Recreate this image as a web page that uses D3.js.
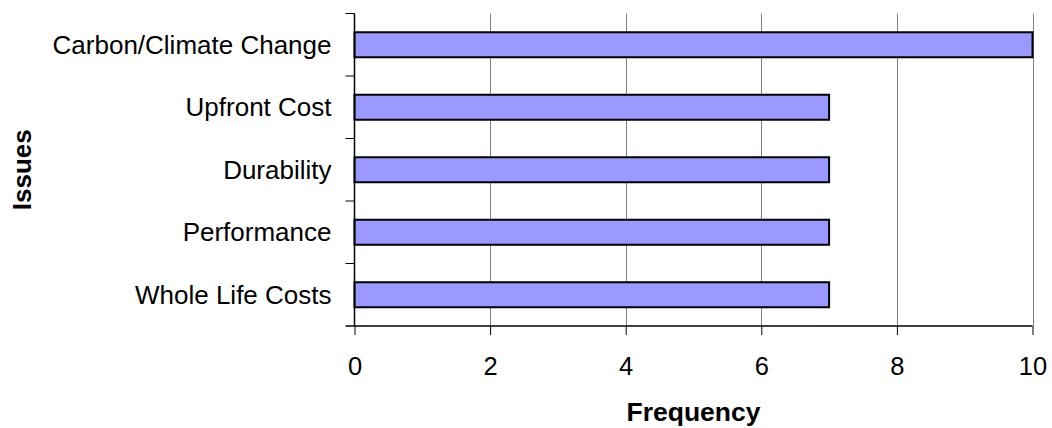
<!DOCTYPE html>
<html>
<head>
<meta charset="utf-8">
<script src="https://cdn.jsdelivr.net/npm/d3@7"></script>
<style>
  html, body { margin: 0; padding: 0; background: #fff; }
  svg { display: block; font-family: "Liberation Sans", Arial, sans-serif; }
</style>
</head>
<body>
<svg id="chart" width="1052" height="428"></svg>
<script>
// Issue categories, top to bottom, and how often each was raised
const issues = ["Carbon/Climate Change", "Upfront Cost", "Durability", "Performance", "Whole Life Costs"];
const frequency = [10, 7, 7, 7, 7];
const freqTicks = [0, 2, 4, 6, 8, 10];

const svg = d3.select("#chart");
const plot = { left: 354.5, right: 1032.5, top: 13.5, bottom: 326 };

const x = d3.scaleLinear().domain([0, 10]).range([plot.left, plot.right]);
const y = d3.scaleBand().domain(issues).range([plot.top, plot.bottom]).paddingInner(0.6).paddingOuter(0.3);
const band = d3.scaleBand().domain(issues).range([plot.top, plot.bottom]);

// vertical gridlines
svg.append("g")
  .selectAll("line")
  .data(freqTicks.filter(d => d > 0))
  .join("line")
  .attr("x1", d => Math.round(x(d)) + 0.5)
  .attr("x2", d => Math.round(x(d)) + 0.5)
  .attr("y1", plot.top)
  .attr("y2", plot.bottom)
  .attr("stroke", "#808080")
  .attr("stroke-width", 1);

// bars
svg.append("g")
  .selectAll("rect")
  .data(issues.map((name, i) => ({ name, value: frequency[i] })))
  .join("rect")
  .attr("x", x(0))
  .attr("y", d => y(d.name))
  .attr("width", d => x(d.value) - x(0))
  .attr("height", y.bandwidth())
  .attr("fill", "#9999FF")
  .attr("stroke", "#000")
  .attr("stroke-width", 2);

// x axis
const xAxis = svg.append("g")
  .attr("transform", `translate(0,${plot.bottom})`)
  .call(d3.axisBottom(x).tickValues(freqTicks).tickSize(9).tickPadding(22).tickSizeOuter(0));
xAxis.select(".domain").attr("stroke", "#000").attr("stroke-width", 1.5)
  .attr("d", `M${plot.left - 9},0H${plot.right}`);
xAxis.selectAll(".tick line").attr("stroke", "#000").attr("stroke-width", 1);
xAxis.selectAll(".tick text")
  .attr("font-size", 25.5)
  .attr("font-family", "'Liberation Sans', Arial, sans-serif")
  .attr("fill", "#000");

// y axis: ticks sit on category boundaries
const yAxisG = svg.append("g").attr("transform", `translate(${plot.left},0)`);
yAxisG.append("line")
  .attr("x1", 0).attr("x2", 0)
  .attr("y1", plot.top).attr("y2", plot.bottom)
  .attr("stroke", "#000").attr("stroke-width", 1.5);
yAxisG.selectAll("line.tick")
  .data(issues)
  .join("line")
  .attr("class", "tick")
  .attr("x1", -9).attr("x2", 0)
  .attr("y1", d => band(d))
  .attr("y2", d => band(d))
  .attr("stroke", "#000").attr("stroke-width", 1);
yAxisG.selectAll("text")
  .data(issues)
  .join("text")
  .attr("x", -23)
  .attr("y", d => band(d) + band.bandwidth() / 2)
  .attr("dy", "0.35em")
  .attr("text-anchor", "end")
  .attr("font-size", 26)
  .attr("fill", "#000")
  .text(d => d);

// axis titles
svg.append("text")
  .attr("x", (plot.left + plot.right) / 2)
  .attr("y", 421)
  .attr("text-anchor", "middle")
  .attr("font-size", 26.5)
  .attr("font-weight", "bold")
  .text("Frequency");

svg.append("text")
  .attr("transform", `translate(31,${(plot.top + plot.bottom) / 2}) rotate(-90)`)
  .attr("text-anchor", "middle")
  .attr("font-size", 26)
  .attr("font-weight", "bold")
  .text("Issues");
</script>
</body>
</html>
